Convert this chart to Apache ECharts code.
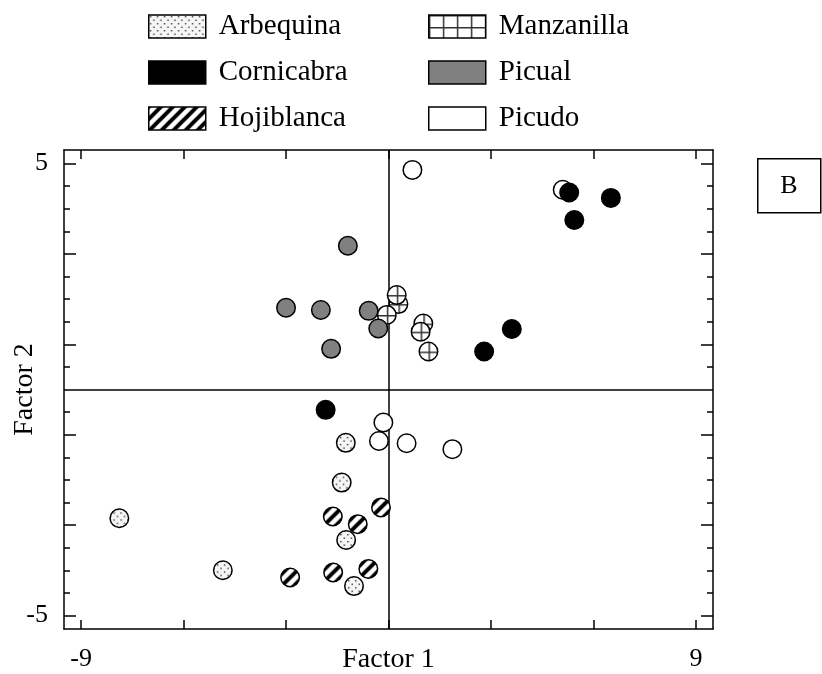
<!DOCTYPE html>
<html>
<head>
<meta charset="utf-8">
<script src="https://cdn.jsdelivr.net/npm/echarts@6/dist/echarts.min.js"></script>
<style>html,body{margin:0;padding:0;background:#fff}#c{width:822px;height:674px}</style>
</head>
<body>
<div id="c"></div>
<script>
// ---- data ----
const cultivars = ['Arbequina', 'Cornicabra', 'Hojiblanca', 'Manzanilla', 'Picual', 'Picudo'];
const arbequina = [[-1.25,-1.18],[-1.37,-2.06],[-7.88,-2.85],[-1.24,-3.33],[-4.85,-4.00],[-1.01,-4.35]];
const cornicabra = [[5.29,4.36],[6.51,4.24],[5.44,3.75],[3.61,1.34],[2.80,0.84],[-1.84,-0.45]];
const hojiblanca = [[-0.22,-2.61],[-1.63,-2.81],[-0.90,-2.98],[-2.88,-4.16],[-1.62,-4.05],[-0.59,-3.97]];
const manzanilla = [[0.29,1.89],[0.24,2.09],[-0.05,1.65],[1.02,1.46],[0.94,1.28],[1.17,0.84]];
const picual = [[-1.19,3.18],[-3.00,1.81],[-1.98,1.76],[-0.58,1.74],[-0.30,1.35],[-1.68,0.90]];
const picudo = [[0.70,4.86],[5.10,4.42],[-0.15,-0.73],[-0.28,-1.14],[0.53,-1.19],[1.87,-1.32]];
const xTicks = [-9,-6,-3,0,3,6,9];
const xLabels = [-9,9];
const yMajorTicks = [-5,-3,-1,1,3,5];
const yMinorTicks = [-4.5,-4,-3.5,-2.5,-2,-1.5,-0.5,0.5,1.5,2,2.5,3.5,4,4.5];
const yLabels = [-5,5];

// ---- patterns ----
const SYM = 18.5;
function tileCanvas(w,h,draw){const c=document.createElement('canvas');c.width=w;c.height=h;draw(c.getContext('2d'),w,h);return c;}
const dotC = tileCanvas(7,7,(g,w,h)=>{g.fillStyle='#f6f6f6';g.fillRect(0,0,w,h);g.fillStyle='#333';g.fillRect(1,1,1.4,1.4);g.fillRect(4.5,4.5,1.4,1.4);});
const stripeC = tileCanvas(12,12,(g,s)=>{g.fillStyle='#fff';g.fillRect(0,0,s,s);g.strokeStyle='#000';g.lineWidth=4;g.lineCap='square';
  g.beginPath();g.moveTo(0,s);g.lineTo(s,0);g.moveTo(-2,2);g.lineTo(2,-2);g.moveTo(s-2,s+2);g.lineTo(s+2,s-2);g.stroke();});
const gridC = tileCanvas(14,12,(g,w,h)=>{g.fillStyle='#fff';g.fillRect(0,0,w,h);g.strokeStyle='#333';g.lineWidth=1.5;
  g.beginPath();g.moveTo(0.75,0);g.lineTo(0.75,h);g.moveTo(0,0.75);g.lineTo(w,0.75);g.stroke();});
function pat(c, s){return {image:c, repeat:'repeat', scaleX:s, scaleY:s};}
const k = 2/SYM;
const markerFill = {Arbequina:pat(dotC,k), Cornicabra:'#000', Hojiblanca:pat(stripeC,k), Manzanilla:pat(gridC,k), Picual:'#808080', Picudo:'#fff'};
const legendFill = {Arbequina:pat(dotC,1), Cornicabra:'#000', Hojiblanca:pat(stripeC,1), Manzanilla:pat(gridC,1), Picual:'#808080', Picudo:'#fff'};
const dataMap = {Arbequina:arbequina, Cornicabra:cornicabra, Hojiblanca:hojiblanca, Manzanilla:manzanilla, Picual:picual, Picudo:picudo};
const drawOrder = ['Picudo','Manzanilla','Picual','Arbequina','Hojiblanca','Cornicabra'];

const FONT = 'Liberation Serif';
const series = drawOrder.map((name,i)=>({
  name, type:'scatter', data:dataMap[name], symbol:'circle', symbolSize:SYM, z:10+i,
  itemStyle:{color:markerFill[name], borderColor:'#000', borderWidth:1.5, opacity:1},
  emphasis:{disabled:true}
}));
series.push({
  type:'scatter', data:[], silent:true, z:1,
  markLine:{z:1, silent:true, symbol:'none', label:{show:false}, animation:false,
    lineStyle:{color:'#000', type:'solid', width:1.5},
    data:[{xAxis:0},{yAxis:0}]}
});

const axisLine = {show:true, onZero:false, lineStyle:{color:'#000', width:1.5}};
function xAx(pos, labels, name){return {type:'value', position:pos, min:-9.5, max:9.5, axisLine,
  axisTick:{show:true, inside:true, length:9, customValues:xTicks, lineStyle:{color:'#000', width:1.5}},
  axisLabel:{show:labels, customValues:xLabels, margin:17, color:'#000', fontFamily:FONT, fontSize:26},
  splitLine:{show:false}, name:name||'', nameLocation:'middle', nameGap:17, nameMoveOverlap:false,
  nameTextStyle:{color:'#000', fontFamily:FONT, fontSize:28}};}
function yAx(pos, ticks, len, labels, name, showLine){return {type:'value', position:pos, min:-5.3, max:5.3,
  axisLine:showLine?axisLine:{show:false, onZero:false},
  axisTick:{show:true, inside:true, length:len, customValues:ticks, lineStyle:{color:'#000', width:1.5}},
  axisLabel:{show:labels, customValues:yLabels, margin:16, color:'#000', fontFamily:FONT, fontSize:26},
  splitLine:{show:false}, name:name||'', nameLocation:'middle', nameGap:25, nameRotate:90, nameMoveOverlap:false,
  nameTextStyle:{color:'#000', fontFamily:FONT, fontSize:28}};}

const legendCommon = {orient:'vertical', icon:'rect', itemWidth:57, itemHeight:23, itemGap:17, padding:0,
  selectedMode:false, textStyle:{color:'#000', fontFamily:FONT, fontSize:29, padding:[0,0,0,8]}};
const legItems = names => names.map(n=>({name:n, itemStyle:{color:legendFill[n], borderColor:'#000', borderWidth:1.5}}));

const chart = echarts.init(document.getElementById('c'), null, {renderer:'canvas'});
chart.setOption({
  animation:false,
  backgroundColor:'#fff',
  grid:{left:64, top:150, width:649, height:479, containLabel:false, outerBoundsMode:'none'},
  legend:[
    Object.assign({left:148, top:12, data:legItems(cultivars.slice(0,3))}, legendCommon),
    Object.assign({left:428, top:12, data:legItems(cultivars.slice(3))}, legendCommon)
  ],
  xAxis:[xAx('bottom', true, 'Factor 1'), xAx('top', false)],
  yAxis:[yAx('left', yMajorTicks, 12, true, 'Factor 2', true), yAx('right', yMajorTicks, 12, false, '', true),
         yAx('left', yMinorTicks, 6, false, '', false), yAx('right', yMinorTicks, 6, false, '', false)],
  series,
  graphic:[
    {type:'rect', left:757, top:158, shape:{width:63, height:54}, style:{fill:'#fff', stroke:'#000', lineWidth:1.5}, z:100},
    {type:'text', x:789, y:186, style:{text:'B', fill:'#000', font:'26px "Liberation Serif"', align:'center', verticalAlign:'middle'}, z:101}
  ]
});
</script>
</body>
</html>
